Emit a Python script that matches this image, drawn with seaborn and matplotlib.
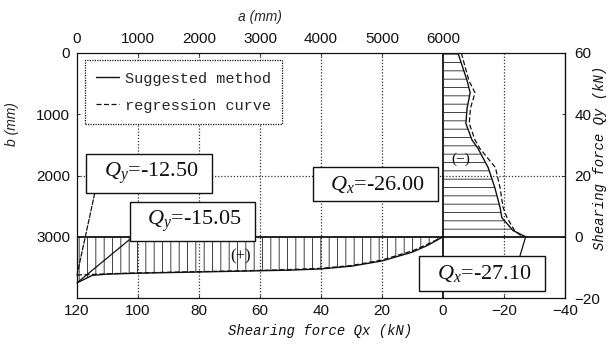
import matplotlib
matplotlib.use("Agg")
import matplotlib.pyplot as plt
from matplotlib.lines import Line2D
import seaborn as sns

# Qy along the edge b = 3000 mm, against a (mm)
a_mm = [0, 250, 500, 1000, 1500, 2000, 2500, 3000, 3500, 4000, 4500, 5000, 5500, 5750, 6000]
qy_suggested = [-15.05, -12.6, -12.2, -11.9, -11.7, -11.5, -11.3, -11.1, -10.9, -10.5, -9.6, -7.9, -5.0, -2.8, 0.0]
qy_regression = [-12.50, -12.3, -12.1, -11.8, -11.6, -11.4, -11.2, -11.0, -10.7, -10.3, -9.4, -7.6, -4.6, -2.4, 0.0]

# Qx along the edge a = 6000 mm, against b (mm)
b_mm = [0, 450, 650, 900, 1150, 1420, 1560, 1870, 2200, 2520, 2690, 2900, 3000]
qx_suggested = [-4.9, -7.9, -8.9, -7.9, -7.5, -9.5, -11.5, -14.8, -17.0, -18.7, -19.3, -23.0, -27.10]
qx_regression = [-6.0, -8.5, -10.5, -9.0, -8.6, -10.5, -12.1, -17.2, -18.7, -19.7, -21.0, -23.5, -26.00]

a_ticks = [0, 1000, 2000, 3000, 4000, 5000, 6000]
b_ticks = [0, 1000, 2000, 3000]
qx_ticks = [120, 100, 80, 60, 40, 20, 0, -20, -40]
qy_ticks = [-20, 0, 20, 40, 60]

sns.set_style("white")
plt.rcParams.update({
    "font.family": ["Liberation Sans", "DejaVu Sans"],
    "mathtext.fontset": "custom",
    "mathtext.rm": "Liberation Serif",
    "mathtext.it": "Liberation Serif:italic",
    "hatch.linewidth": 0.6,
    "xtick.direction": "in",
    "ytick.direction": "in",
})

fig = plt.figure(figsize=(6.12, 3.48), dpi=100)
ax = fig.add_axes([77 / 612, 50 / 348, 488 / 612, 245 / 348])
ax_qy = ax.twinx()   # a (mm) vs Qy (kN)
ax_qx = ax.twiny()   # Qx (kN) vs b (mm)

ink = "#111111"
grid_kw = dict(color="#333333", lw=0.9, ls=(0, (1, 1.5)), zorder=1)
for a in [1000, 2000, 3000, 4000, 5000, 7000]:
    ax.axvline(a, **grid_kw)
ax.axhline(2000, **grid_kw)
ax.axvline(6000, color=ink, lw=1.3, zorder=3)
ax.axhline(3000, color=ink, lw=1.3, zorder=3)

# hatched distributions
ax_qy.fill_between(a_mm, qy_suggested, 0, facecolor="none", edgecolor="#222222",
                   hatch="||", linewidth=0, zorder=2)
ax_qx.fill_betweenx(b_mm, qx_suggested, 0, facecolor="none", edgecolor="#222222",
                    hatch="--", linewidth=0, zorder=2)

sol_kw = dict(color=ink, lw=1.0)
reg_kw = dict(color=ink, lw=0.9, linestyle=(0, (4, 2)))
sns.lineplot(x=a_mm, y=qy_suggested, ax=ax_qy, **sol_kw)
sns.lineplot(x=a_mm, y=qy_regression, ax=ax_qy, **reg_kw)
sns.lineplot(x=qx_suggested, y=b_mm, ax=ax_qx, sort=False, estimator=None, orient="y", **sol_kw)
sns.lineplot(x=qx_regression, y=b_mm, ax=ax_qx, sort=False, estimator=None, orient="y", **reg_kw)

# limits and ticks
ax.set_xlim(0, 8000)
ax.set_ylim(4000, 0)
ax_qy.set_ylim(-20, 60)
ax_qx.set_xlim(120, -40)

ax.xaxis.tick_top()
ax.set_xticks(a_ticks)
ax.set_yticks(b_ticks)
ax_qx.xaxis.tick_bottom()
ax_qx.set_xticks(qx_ticks)
ax_qy.set_yticks(qy_ticks)

tick_kw = dict(labelsize=11, length=2, width=0.6, colors=ink)
ax.tick_params(axis="x", pad=5, **tick_kw)
ax.tick_params(axis="y", pad=5, **tick_kw)
ax_qx.tick_params(axis="x", pad=4, **tick_kw)
ax_qy.tick_params(axis="y", pad=7, **tick_kw)

for s in ax_qy.spines.values():
    s.set_visible(False)
for s in ax_qx.spines.values():
    s.set_visible(False)
for side in ["top", "bottom", "left"]:
    ax.spines[side].set_linestyle((0, (1, 1)))
    ax.spines[side].set_linewidth(0.9)
    ax.spines[side].set_color(ink)
ax.spines["right"].set_linewidth(1.0)
ax.spines["right"].set_color(ink)

# axis titles
mono_it = dict(family="Liberation Mono", style="italic", color=ink)
ax.set_xlabel("a (mm)", fontsize=10, style="italic")
ax.xaxis.set_label_position("top")
ax.xaxis.set_label_coords(0.375, 1.147)
ax.xaxis.label.set_va("center")
ax.set_ylabel("b (mm)", fontsize=10, style="italic")
ax.yaxis.set_label_coords(-0.133, 0.71)
ax.yaxis.label.set_va("center")
ax_qx.set_xlabel("Shearing force Qx (kN)", fontsize=10, **mono_it)
ax_qx.xaxis.set_label_position("bottom")
ax_qx.xaxis.set_label_coords(0.498, -0.135)
ax_qx.xaxis.label.set_va("center")
ax_qy.set_ylabel("Shearing force Qy (kN)", fontsize=10, **mono_it)
ax_qy.yaxis.set_label_coords(1.072, 0.57)
ax_qy.yaxis.label.set_va("center")

# value call-outs
box = dict(boxstyle="square,pad=0.3", fc="white", ec=ink, lw=1.0)
txt_kw = dict(fontsize=16, family="Liberation Serif", ha="center", va="center",
              color=ink, zorder=10, textcoords=ax.transData)

ax_qx.annotate(f"  $Q_y$=-{abs(qy_regression[0]):.2f}  ",
               xy=(a_mm[0], qy_regression[0]), xycoords=ax_qy.transData,
               xytext=(1180, 1967), bbox=box,
               arrowprops=dict(arrowstyle="-", color=ink, lw=0.9, ls="--",
                               relpos=(0.03, 0.0), shrinkA=0, shrinkB=0),
               **txt_kw)
ax_qx.annotate(f"  $Q_y$=-{abs(qy_suggested[0]):.2f}  ",
               xy=(a_mm[0], qy_suggested[0]), xycoords=ax_qy.transData,
               xytext=(1893, 2746), bbox=box,
               arrowprops=dict(arrowstyle="-", color=ink, lw=0.9,
                               relpos=(0.0, 0.0), shrinkA=0, shrinkB=0),
               **txt_kw)
ax_qx.annotate(f"  $Q_x$=-{abs(qx_regression[-1]):.2f}  ",
               xy=(4893, 2139), xycoords=ax.transData,
               xytext=(4893, 2139), bbox=box, **txt_kw)
ax_qx.annotate(f"  $Q_x$=-{abs(qx_suggested[-1]):.2f}  ",
               xy=(qx_suggested[-1], b_mm[-1]), xycoords=ax_qx.transData,
               xytext=(6639, 3598), bbox=box,
               arrowprops=dict(arrowstyle="-", color=ink, lw=0.9,
                               relpos=(0.82, 1.0), shrinkA=0, shrinkB=0),
               **txt_kw)

ax.text(2689, 3328, "(+)", fontsize=12, family="Liberation Serif", ha="center",
        va="center", color=ink, zorder=5,
        bbox=dict(boxstyle="square,pad=0.05", fc="white", ec="none"))
ax.text(6290, 1738, "(−)", fontsize=11, family="Liberation Serif", ha="center",
        va="center", color=ink, zorder=5,
        bbox=dict(boxstyle="square,pad=0.05", fc="white", ec="none"))

handles = [Line2D([], [], **sol_kw), Line2D([], [], **reg_kw)]
leg = ax_qx.legend(handles, ["Suggested method", "regression curve"],
                   loc="upper left", bbox_to_anchor=(0.0164, 0.971), borderaxespad=0,
                   frameon=True, fancybox=False, edgecolor=ink, framealpha=1,
                   prop={"family": "Liberation Mono", "size": 11},
                   handlelength=1.5, handletextpad=0.35, borderpad=0.75, labelspacing=0.85)
leg.get_frame().set_linewidth(0.9)
leg.get_frame().set_linestyle((0, (1, 1)))
leg.set_zorder(12)

fig.savefig("out.png", dpi=100)
